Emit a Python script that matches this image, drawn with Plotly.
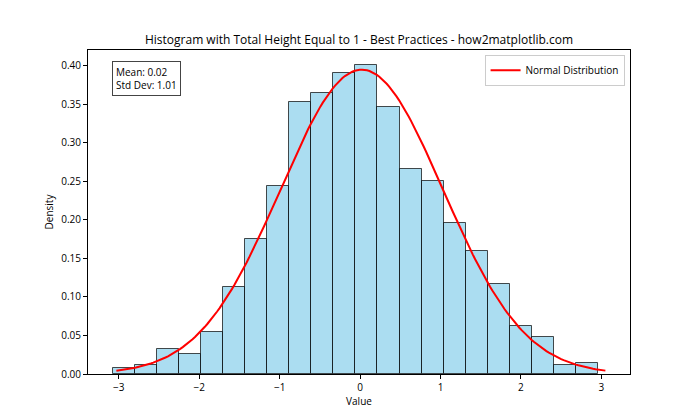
import numpy as np
import plotly.graph_objects as go

# Histogram (density)
bin_start = -3.077
bin_width = 0.2744
densities = [0.0073, 0.0117, 0.0320, 0.0260, 0.0543, 0.1128, 0.1753, 0.2443,
             0.3536, 0.3641, 0.3901, 0.4005, 0.3459, 0.2665, 0.2508, 0.1962,
             0.1597, 0.1168, 0.0621, 0.0478, 0.0113, 0.0139]

# Normal distribution parameters shown in the chart
mu = 0.02
sigma = 1.01
curve_min, curve_max = -3.03, 3.05

centers = [bin_start + bin_width * (i + 0.5) for i in range(len(densities))]
xs = np.linspace(curve_min, curve_max, 200)
ys = np.exp(-0.5 * ((xs - mu) / sigma) ** 2) / (sigma * np.sqrt(2 * np.pi))

font_family = "Open Sans, Noto Sans, DejaVu Sans, sans-serif"

fig = go.Figure()
fig.add_trace(go.Bar(
    x=centers, y=densities, width=bin_width,
    marker=dict(color="rgba(135,206,235,0.7)",
                line=dict(color="rgba(0,0,0,0.7)", width=1)),
    showlegend=False, hoverinfo="skip",
))
fig.add_trace(go.Scatter(
    x=xs, y=ys, mode="lines", name="Normal Distribution",
    line=dict(color="red", width=2),
))

fig.update_layout(
    width=700, height=420,
    margin=dict(l=88, r=70, t=50, b=46),
    paper_bgcolor="white", plot_bgcolor="white",
    font=dict(family=font_family, size=10, color="black"),
    title=dict(text="Histogram with Total Height Equal to 1 - Best Practices - how2matplotlib.com",
               x=(88 + 630) / 2 / 700, xanchor="center", y=1 - 40 / 420, yanchor="middle",
               font=dict(size=12, color="black")),
    bargap=0,
    legend=dict(x=0.99, y=0.985, xanchor="right", yanchor="top",
                bgcolor="white", bordercolor="#cccccc", borderwidth=1,
                itemwidth=30, font=dict(size=10)),
    annotations=[dict(
        text="Mean: 0.02<br>Std Dev: 1.01", xref="paper", yref="paper",
        x=0.045, y=0.965, xanchor="left", yanchor="top", showarrow=False,
        align="left", bgcolor="white", bordercolor="#444444", borderwidth=1,
        borderpad=3, font=dict(size=10),
    )],
)
fig.update_xaxes(
    range=[-3.383, 3.356], tickmode="array", tickvals=[-3, -2, -1, 0, 1, 2, 3],
    showline=True, linecolor="black", linewidth=1, mirror=True,
    ticks="outside", ticklen=4, tickcolor="black", showgrid=False, zeroline=False,
    title=dict(text="Value", font=dict(size=10), standoff=4),
)
fig.update_yaxes(
    range=[0, 0.4205], tickmode="array",
    tickvals=[0, 0.05, 0.10, 0.15, 0.20, 0.25, 0.30, 0.35, 0.40], tickformat=".2f",
    showline=True, linecolor="black", linewidth=1, mirror=True,
    ticks="outside", ticklen=4, tickcolor="black", showgrid=False, zeroline=False,
    title=dict(text="Density", font=dict(size=10), standoff=5),
)

fig.write_html("out.html")
